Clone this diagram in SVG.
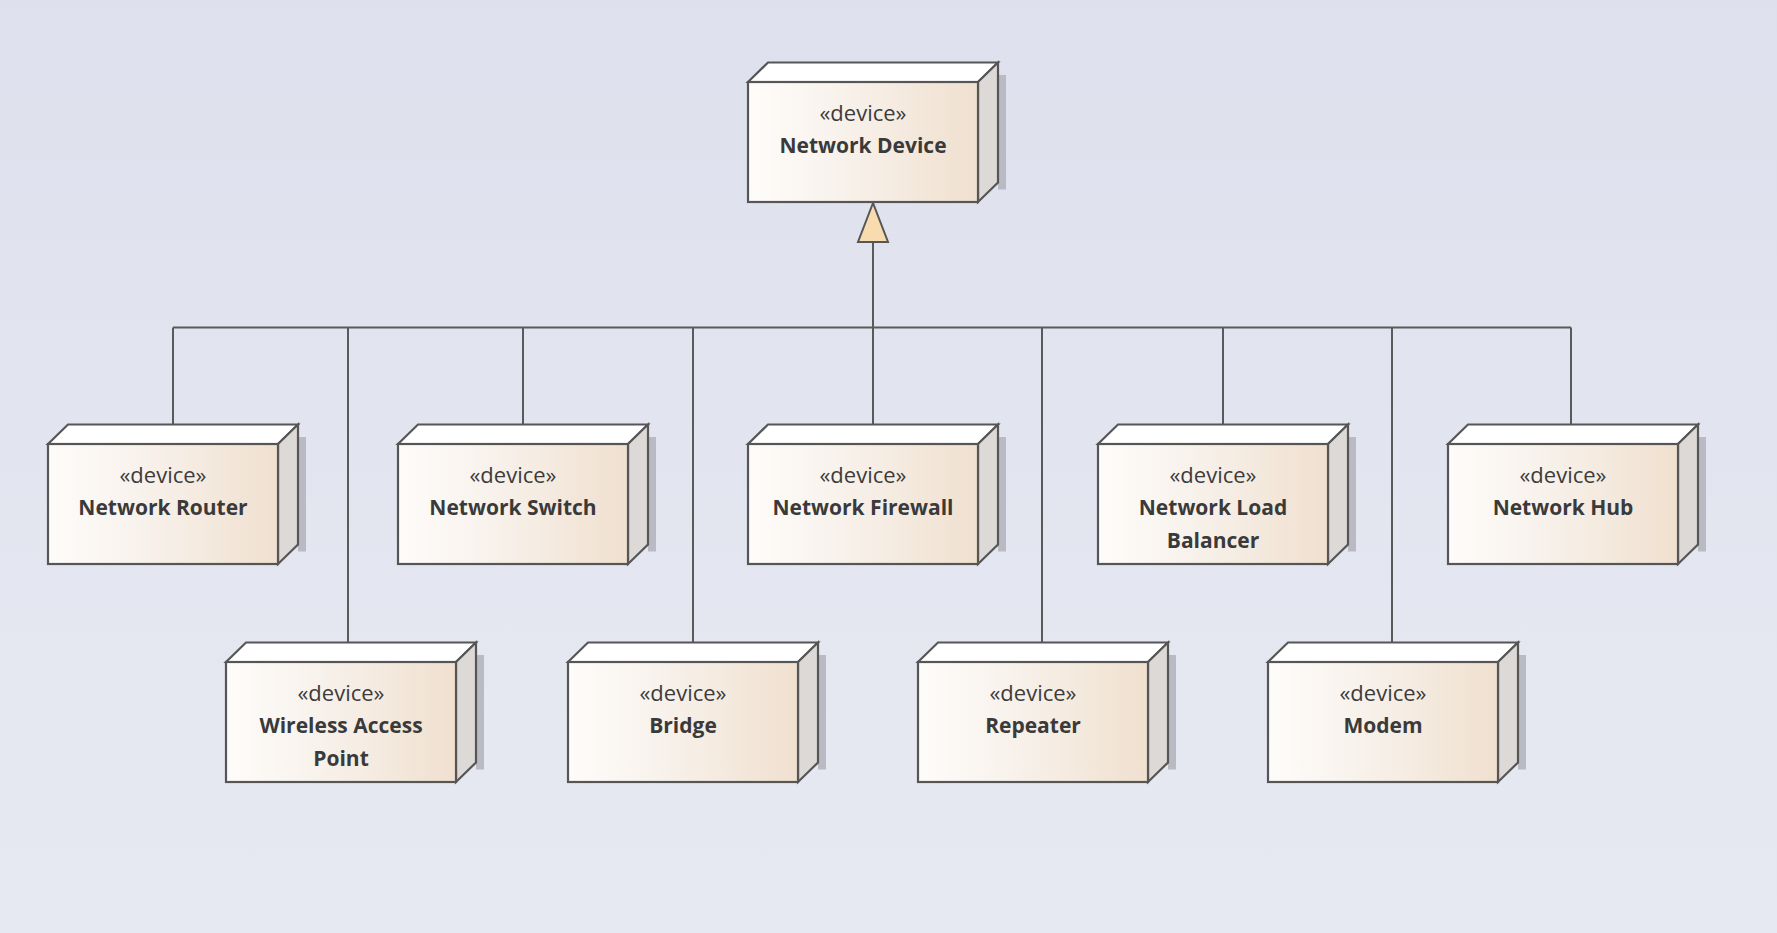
<svg xmlns="http://www.w3.org/2000/svg" xmlns:xlink="http://www.w3.org/1999/xlink" width="1777" height="933" viewBox="0 0 1777 933">
<style>
.edge{stroke:#5a5a5a;stroke-width:2;fill:none}
.st{font-family:"Open Sans","Noto Sans","Liberation Sans",sans-serif;font-size:22px;fill:#3c3c3c;text-anchor:middle}
.nm{font-family:"Open Sans","Noto Sans","Liberation Sans",sans-serif;font-size:21px;font-weight:700;fill:#3a3a3a;text-anchor:middle}
.fr{fill:url(#gFront);stroke:#565656;stroke-width:2.2}
.tp{fill:#ffffff;stroke:#565656;stroke-width:2.2;stroke-linejoin:miter}
.sd{fill:#dcd9d6;stroke:#565656;stroke-width:2.2}
.sh{fill:#b9bac3}
</style>
<defs>
<linearGradient id="gBg" x1="0" y1="0" x2="0" y2="1">
<stop offset="0" stop-color="#dee1ed"/>
<stop offset="1" stop-color="#e7e9f2"/>
</linearGradient>
<linearGradient id="gFront" x1="0" y1="0" x2="1" y2="0">
<stop offset="0" stop-color="#fefcfa"/>
<stop offset="0.4" stop-color="#f8f2ec"/>
<stop offset="1" stop-color="#f0e0cf"/>
</linearGradient>
<g id="box">
<rect class="sh" x="250" y="-7" width="8" height="114.5"/>
<polygon class="tp" points="0,0 20,-19.5 250,-19.5 230,0"/>
<polygon class="sd" points="230,0 250,-19.5 250,100.5 230,120"/>
<rect class="fr" x="0" y="0" width="230" height="120"/>
</g>
</defs>
<rect x="0" y="0" width="1777" height="933" fill="url(#gBg)"/>

<g id="connectors">
<path class="edge" d="M873,242 V327.5"/>
<path class="edge" d="M173,327.5 H1571"/>
<path class="edge" d="M173,327.5 V424.5"/>
<path class="edge" d="M523,327.5 V424.5"/>
<path class="edge" d="M873,327.5 V424.5"/>
<path class="edge" d="M1223,327.5 V424.5"/>
<path class="edge" d="M1571,327.5 V424.5"/>
<path class="edge" d="M348,327.5 V642.5"/>
<path class="edge" d="M693,327.5 V642.5"/>
<path class="edge" d="M1042,327.5 V642.5"/>
<path class="edge" d="M1392,327.5 V642.5"/>
<polygon points="873,203 858,242 888,242" fill="#f8dcb0" stroke="#565656" stroke-width="2" stroke-linejoin="miter"/>
</g>

<g id="node-network-device" transform="translate(748,82)">
<use xlink:href="#box"/>
<text class="st" x="115" y="39">«device»</text>
<text class="nm" x="115" y="71">Network Device</text>
</g>

<g id="node-network-router" transform="translate(48,444)">
<use xlink:href="#box"/>
<text class="st" x="115" y="39">«device»</text>
<text class="nm" x="115" y="71">Network Router</text>
</g>

<g id="node-network-switch" transform="translate(398,444)">
<use xlink:href="#box"/>
<text class="st" x="115" y="39">«device»</text>
<text class="nm" x="115" y="71">Network Switch</text>
</g>

<g id="node-network-firewall" transform="translate(748,444)">
<use xlink:href="#box"/>
<text class="st" x="115" y="39">«device»</text>
<text class="nm" x="115" y="71">Network Firewall</text>
</g>

<g id="node-network-load-balancer" transform="translate(1098,444)">
<use xlink:href="#box"/>
<text class="st" x="115" y="39">«device»</text>
<text class="nm" x="115" y="71">Network Load</text>
<text class="nm" x="115" y="103.5">Balancer</text>
</g>

<g id="node-network-hub" transform="translate(1448,444)">
<use xlink:href="#box"/>
<text class="st" x="115" y="39">«device»</text>
<text class="nm" x="115" y="71">Network Hub</text>
</g>

<g id="node-wireless-access-point" transform="translate(226,662)">
<use xlink:href="#box"/>
<text class="st" x="115" y="39">«device»</text>
<text class="nm" x="115" y="71">Wireless Access</text>
<text class="nm" x="115" y="103.5">Point</text>
</g>

<g id="node-bridge" transform="translate(568,662)">
<use xlink:href="#box"/>
<text class="st" x="115" y="39">«device»</text>
<text class="nm" x="115" y="71">Bridge</text>
</g>

<g id="node-repeater" transform="translate(918,662)">
<use xlink:href="#box"/>
<text class="st" x="115" y="39">«device»</text>
<text class="nm" x="115" y="71">Repeater</text>
</g>

<g id="node-modem" transform="translate(1268,662)">
<use xlink:href="#box"/>
<text class="st" x="115" y="39">«device»</text>
<text class="nm" x="115" y="71">Modem</text>
</g>
</svg>
